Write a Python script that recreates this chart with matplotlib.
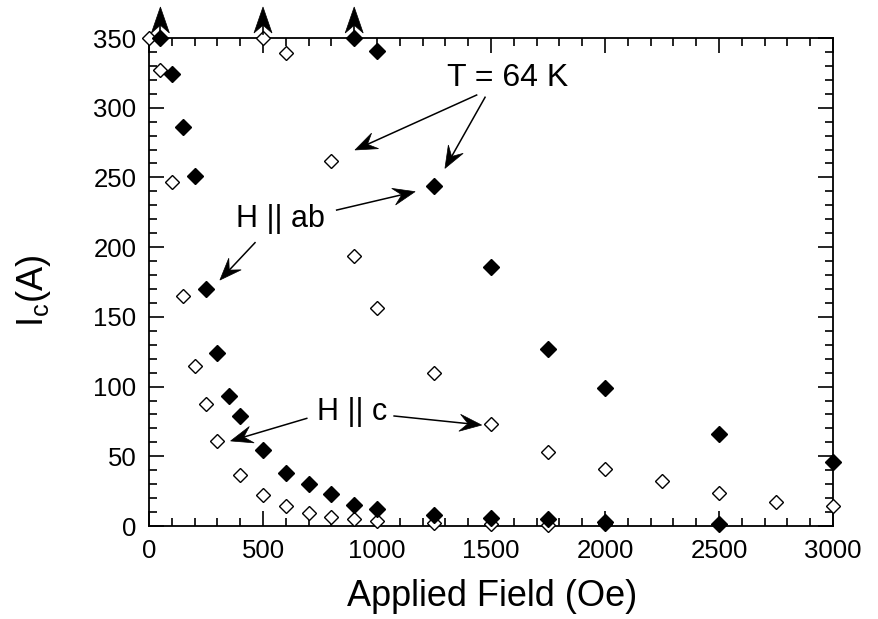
import numpy as np
import matplotlib
matplotlib.use("Agg")
import matplotlib.pyplot as plt
from matplotlib.patches import Polygon
from matplotlib.lines import Line2D
from matplotlib.ticker import MultipleLocator

# ---- data ----
ab_fast_x = [50, 100, 150, 200, 250, 300, 350, 400, 500, 600, 700, 800, 900, 1000, 1250, 1500, 1750, 2000, 2500]
ab_fast_y = [350, 324, 286, 251, 170, 124, 93.5, 79, 54.5, 38, 30, 23, 15, 12.5, 8, 6, 5, 3, 1.4]
ab_slow_x = [900, 1000, 1250, 1500, 1750, 2000, 2500, 3000]
ab_slow_y = [350, 341, 244, 186, 127, 99, 66, 46]
c_fast_x = [0, 50, 100, 150, 200, 250, 300, 400, 500, 600, 700, 800, 900, 1000, 1250, 1500, 1750, 2000]
c_fast_y = [350, 327, 247, 165, 115, 87.5, 61, 36.6, 22, 14, 9, 6.7, 5, 3.8, 2, 1.5, 1, 1.5]
c_slow_x = [500, 600, 800, 900, 1000, 1250, 1500, 1750, 2000, 2250, 2500, 2750, 3000]
c_slow_y = [350, 339, 262, 194, 156, 110, 73, 53, 41, 32, 23.5, 17.4, 14]
offscale_x = [50, 500, 900]   # points above the plotted range (marked with arrows)

x_ticks = [0, 500, 1000, 1500, 2000, 2500, 3000]
y_ticks = [0, 50, 100, 150, 200, 250, 300, 350]

plt.rcParams['font.family'] = ['Liberation Sans', 'DejaVu Sans']

W, H = 879, 619
fig = plt.figure(figsize=(W / 100, H / 100), dpi=100)
ax = fig.add_axes([149 / W, 1 - 526 / H, (833 - 149) / W, (526 - 38) / H])
ax.set_xlim(0, 3000)
ax.set_ylim(0, 350)

ax.plot(ab_fast_x, ab_fast_y, 'D', ms=8, mfc='black', mec='black', mew=1, clip_on=False, zorder=4)
ax.plot(ab_slow_x, ab_slow_y, 'D', ms=8, mfc='black', mec='black', mew=1, clip_on=False, zorder=4)
ax.plot(c_fast_x, c_fast_y, 'D', ms=7.6, mfc='white', mec='black', mew=1, clip_on=False, zorder=3)
ax.plot(c_slow_x, c_slow_y, 'D', ms=7.6, mfc='white', mec='black', mew=1, clip_on=False, zorder=3)

ax.set_xticks(x_ticks)
ax.set_yticks(y_ticks)
ax.xaxis.set_minor_locator(MultipleLocator(100))
ax.yaxis.set_minor_locator(MultipleLocator(10))
ax.tick_params(which='both', direction='in', top=True, right=True, width=1.2, colors='black')
ax.tick_params(which='major', length=11, labelsize=18.5, pad=9)
ax.tick_params(which='minor', length=5.5)
for s in ax.spines.values():
    s.set_linewidth(1.3)

ax.set_xlabel('Applied Field (Oe)', fontsize=26)
ax.xaxis.set_label_coords((492.5 - 149) / 684, (526 - 597) / 488)
ax.xaxis.label.set_va('center')
ax.set_ylabel(r'I$_\mathregular{c}$(A)', fontsize=26)
ax.yaxis.set_label_coords((34 - 149) / 684, (526 - 291) / 488)
ax.yaxis.label.set_va('center')

fig.canvas.draw()
tD = ax.transData
inv = tD.inverted()


def stealth(p0, p1, head_len=22, half_w=8.5, notch=0.62, lw=1.1):
    """Line from display point p0 to p1 ending with a stealth arrow head (pixels)."""
    p0 = np.asarray(p0, float)
    p1 = np.asarray(p1, float)
    d = p1 - p0
    u = d / np.hypot(*d)
    n = np.array([-u[1], u[0]])
    back = p1 - u * head_len
    nt = p1 - u * head_len * notch
    head = np.array([p1, back + n * half_w, nt, back - n * half_w])
    line = inv.transform(np.array([p0, nt]))
    ax.add_line(Line2D(line[:, 0], line[:, 1], color='black', lw=lw, clip_on=False, zorder=5))
    ax.add_patch(Polygon(inv.transform(head), closed=True, fc='black', ec='black', lw=0.5,
                         clip_on=False, zorder=5))


def arrow_data(x0, y0, x1, y1, **kw):
    stealth(tD.transform((x0, y0)), tD.transform((x1, y1)), **kw)


# off-scale markers: short upward arrows above the points at the top of the range
ytop = ax.get_ylim()[1]
for xv in offscale_x:
    base = tD.transform((xv, ytop))
    stealth(base + np.array([0, 4]), base + np.array([0, 31]), head_len=26, half_w=9, notch=0.7, lw=1.2)

# annotations
ax.text(1572, 321, 'T = 64 K', fontsize=23, ha='center', va='center', zorder=6)
arrow_data(1437, 309.1, 903.5, 269.7)
arrow_data(1474, 307.5, 1298, 256.5)

ax.text(575, 220.5, 'H || ab', fontsize=22, ha='center', va='center', zorder=6)
arrow_data(823, 226.6, 1167, 239.8)
arrow_data(465, 203.2, 311, 176.4)

ax.text(889, 82, 'H || c', fontsize=22, ha='center', va='center', zorder=6)
arrow_data(692, 77.2, 358, 61)
arrow_data(1075, 78.9, 1459, 72.4)

fig.savefig('out.png', dpi=100)
